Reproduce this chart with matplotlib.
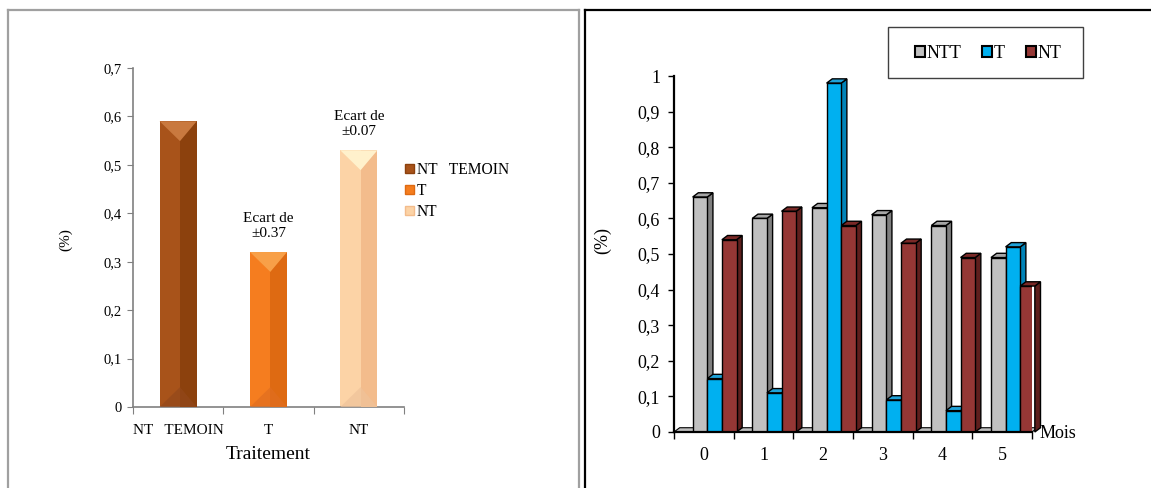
import matplotlib
matplotlib.use("Agg")
import matplotlib.pyplot as plt
from matplotlib.patches import Polygon, Rectangle, Patch
from matplotlib.lines import Line2D
import numpy as np

plt.rcParams['font.family'] = ['Liberation Serif', 'DejaVu Serif']

# ---- data: left chart ----
left_categories = ["NT   TEMOIN", "T", "NT"]
left_values = [0.59, 0.32, 0.53]
left_annotations = ["", "Ecart de\n±0.37", "Ecart de\n±0.07"]
left_yticks = [0, 0.1, 0.2, 0.3, 0.4, 0.5, 0.6, 0.7]
left_yticklabels = ["0", "0,1", "0,2", "0,3", "0,4", "0,5", "0,6", "0,7"]

# ---- data: right chart ----
months = ["0", "1", "2", "3", "4", "5"]
series_names = ["NTT", "T", "NT"]
ntt_values = [0.66, 0.60, 0.63, 0.61, 0.58, 0.49]
t_values = [0.15, 0.11, 0.98, 0.09, 0.06, 0.52]
nt_values = [0.54, 0.62, 0.58, 0.53, 0.49, 0.41]
right_yticks = [0, 0.1, 0.2, 0.3, 0.4, 0.5, 0.6, 0.7, 0.8, 0.9, 1.0]
right_yticklabels = ["0", "0,1", "0,2", "0,3", "0,4", "0,5", "0,6", "0,7", "0,8", "0,9", "1"]

W, H = 1151, 488
fig = plt.figure(figsize=(W / 100, H / 100), dpi=100)

def fx(px):
    return px / W

def fy(py):
    return 1 - py / H

# ---- panel borders ----
gray_border = "#A0A0A0"
fig.add_artist(Line2D([fx(8), fx(8)], [fy(10), 0], color=gray_border, lw=1.6, transform=fig.transFigure))
fig.add_artist(Line2D([fx(8), fx(579)], [fy(10), fy(10)], color=gray_border, lw=1.6, transform=fig.transFigure))
fig.add_artist(Line2D([fx(579), fx(579)], [fy(10), 0], color=gray_border, lw=1.6, transform=fig.transFigure))
fig.add_artist(Line2D([fx(585), fx(585)], [fy(10), 0], color="black", lw=1.6, transform=fig.transFigure))
fig.add_artist(Line2D([fx(585), 1], [fy(10), fy(10)], color="black", lw=1.6, transform=fig.transFigure))

# ================= LEFT CHART =================
axL = fig.add_axes([fx(133), fy(407), fx(404) - fx(133), fy(68) - fy(407)])
axL.set_xlim(0, 3)
axL.set_ylim(0, 0.7)
left_colors = [
    # left face, right face, top triangle, bottom triangle
    ("#A8531A", "#8C410D", "#C9793F", "#93481A"),
    ("#F57D1F", "#DE6A12", "#F8A048", "#E06E20"),
    ("#FCD3A6", "#F3BC8C", "#FFF1CC", "#EFC29A"),
]
bw = 0.41
xs = np.arange(len(left_values)) + 0.5
bars = axL.bar(xs, left_values, width=bw, color=[c[0] for c in left_colors], zorder=2, linewidth=0)
bev = 0.041  # bevel depth in data units
for x, v, cols in zip(xs, left_values, left_colors):
    x0, x1 = x - bw / 2, x + bw / 2
    xm = x + 0.02
    axL.add_patch(Polygon([(xm, 0), (x1, 0), (x1, v), (xm, v)], closed=True, fc=cols[1], ec="none", zorder=3))
    axL.add_patch(Polygon([(x0, v), (x1, v), (xm, v - bev)], closed=True, fc=cols[2], ec="none", zorder=4))
    axL.add_patch(Polygon([(x0, 0), (x1, 0), (xm, bev)], closed=True, fc=cols[3], ec="none", zorder=4, alpha=0.7))

for x, v, txt in zip(xs, left_values, left_annotations):
    if txt:
        axL.annotate(txt, xy=(x, v), xytext=(0, 9), textcoords="offset points",
                     ha="center", va="bottom", fontsize=11, linespacing=1.15)

axL.set_yticks(left_yticks)
axL.set_yticklabels(left_yticklabels, fontsize=10.5)
axL.set_xticks([0, 1, 2, 3])
axL.set_xticklabels([])
axL.set_xticks(xs, minor=True)
axL.set_xticklabels(left_categories, minor=True, fontsize=11)
axL.tick_params(axis="x", which="minor", length=0, pad=12)
axL.tick_params(axis="x", which="major", length=5, color="#808080", direction="out")
axL.tick_params(axis="y", length=4, color="#808080", direction="out", pad=4)
for s in ["top", "right"]:
    axL.spines[s].set_visible(False)
for s in ["left", "bottom"]:
    axL.spines[s].set_color("#808080")
    axL.spines[s].set_linewidth(1.2)
axL.set_xlabel("Traitement", fontsize=14, labelpad=7)
fig.text(fx(66), fy(240), "(%)", rotation=90, ha="center", va="center", fontsize=11)

left_handles = [Patch(facecolor=c[0], edgecolor=c[1], linewidth=1.0) for c in left_colors]
axL.legend(left_handles, ["NT   TEMOIN", "T", "NT"], loc="upper left",
           bbox_to_anchor=(fx(405), fy(162)), bbox_transform=fig.transFigure,
           frameon=False, fontsize=11.2, handlelength=0.6, handleheight=0.6,
           handletextpad=0.15, labelspacing=0.32, borderpad=0, borderaxespad=0)

# ================= RIGHT CHART =================
axR = fig.add_axes([fx(674), fy(432), fx(1032) - fx(674), fy(76) - fy(432)])
axR.set_xlim(0, 6)
axR.set_ylim(0, 1)

series_values = [ntt_values, t_values, nt_values]
front_cols = ["#C0C0C0", "#00B0F0", "#953735"]
side_cols = ["#7F7F7F", "#0083B8", "#5E1F1D"]
top_cols = ["#A6A6A6", "#1FA2D8", "#7A2927"]
rw = 0.245
offsets = [0.435, 0.68, 0.925]
dx = 0.095
dy = 0.012

# floor
axR.add_patch(Polygon([(0, 0), (6, 0), (6 + dx, dy), (dx, dy)], closed=True,
                      fc="#C0C0C0", ec="black", lw=0.8, zorder=1.5, clip_on=False))

for si, (vals, fc, sc, tc, off) in enumerate(zip(series_values, front_cols, side_cols, top_cols, offsets)):
    pos = np.arange(len(months)) + off
    z = 3 + si * 3
    axR.bar(pos, vals, width=rw, color=fc, edgecolor="black", linewidth=1.0, zorder=z + 2)
    for x, v in zip(pos, vals):
        x0, x1 = x - rw / 2, x + rw / 2
        axR.add_patch(Polygon([(x1, 0), (x1 + dx, dy), (x1 + dx, v + dy), (x1, v)], closed=True,
                              fc=sc, ec="black", lw=1.0, zorder=z, clip_on=False))
        axR.add_patch(Polygon([(x0, v), (x1, v), (x1 + dx, v + dy), (x0 + dx, v + dy)], closed=True,
                              fc=tc, ec="black", lw=1.0, zorder=z + 1, clip_on=False))

axR.set_yticks(right_yticks)
axR.set_yticklabels(right_yticklabels, fontsize=13)
axR.set_xticks(np.arange(0, 7))
axR.set_xticklabels([])
axR.set_xticks(np.arange(len(months)) + 0.5, minor=True)
axR.set_xticklabels(months, minor=True, fontsize=13)
axR.tick_params(axis="x", which="minor", length=0, pad=11)
axR.tick_params(axis="x", which="major", length=5, color="black", direction="out", width=1.0)
axR.tick_params(axis="y", length=4, color="black", direction="out", pad=6, width=1.0)
for s in ["top", "right"]:
    axR.spines[s].set_visible(False)
for s in ["left", "bottom"]:
    axR.spines[s].set_color("black")
    axR.spines[s].set_linewidth(1.6)
    axR.spines[s].set_zorder(20)
fig.text(fx(1040), fy(433), "Mois", ha="left", va="center", fontsize=13)
fig.text(fx(603), fy(240), "(%)", rotation=90, ha="center", va="center", fontsize=13)

# legend box
fig.add_artist(Rectangle((fx(888), fy(78)), fx(1083) - fx(888), fy(27) - fy(78),
                         transform=fig.transFigure, fill=False, ec="#404040", lw=1.0))
right_handles = [Patch(facecolor=c, edgecolor="black", linewidth=1.5) for c in front_cols]
axR.legend(right_handles, series_names, loc="center",
           bbox_to_anchor=(fx(988), fy(53)), bbox_transform=fig.transFigure,
           frameon=False, fontsize=13, ncol=3, handlelength=0.55, handleheight=0.55,
           handletextpad=0.1, columnspacing=1.15, borderpad=0, borderaxespad=0)

fig.savefig("out.png", dpi=100, facecolor="white")
